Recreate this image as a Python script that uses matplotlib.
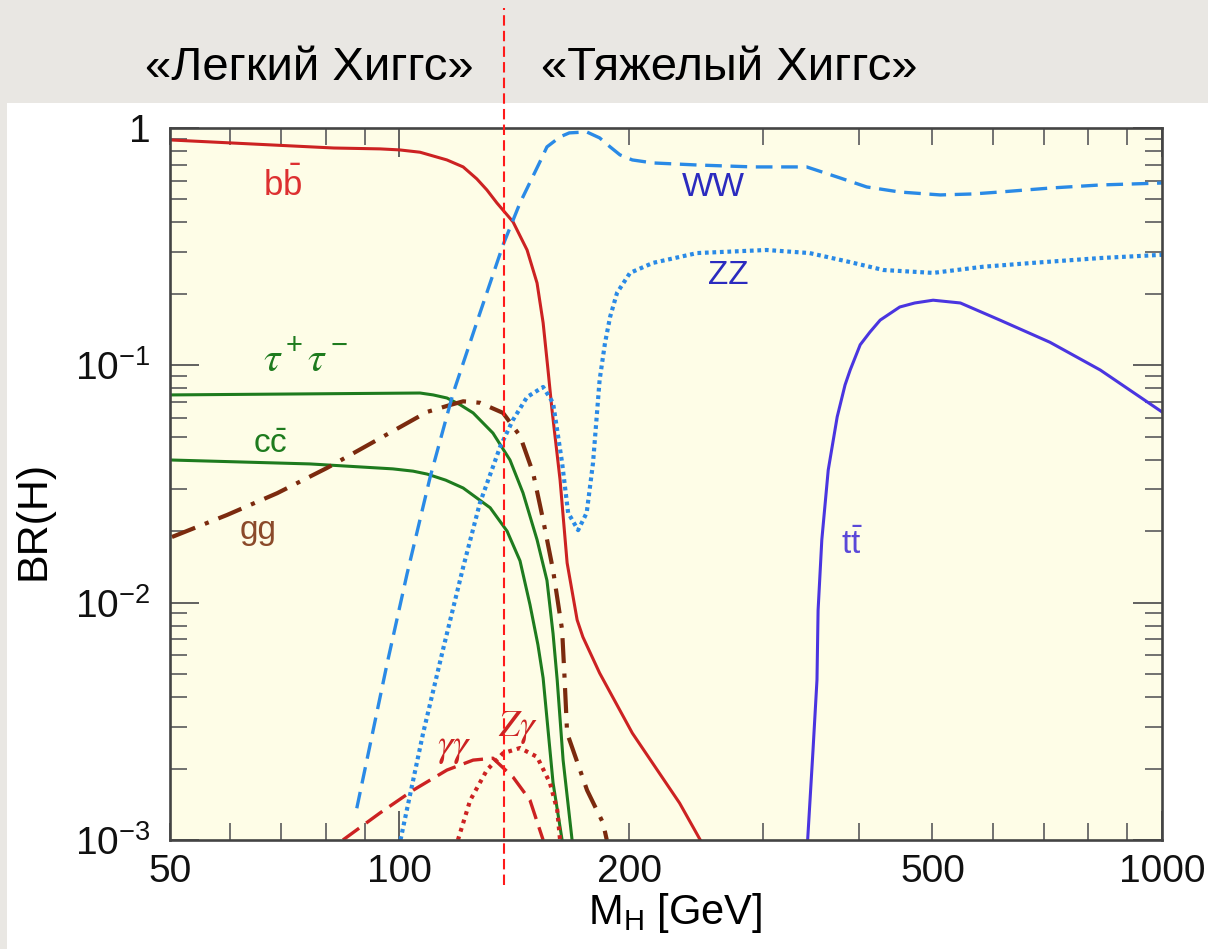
import numpy as np
import matplotlib.pyplot as plt
from matplotlib.ticker import FixedLocator, FuncFormatter, FixedFormatter
from matplotlib.transforms import blended_transform_factory
from matplotlib.patches import Rectangle

plt.rcParams['font.family'] = ['Liberation Sans', 'DejaVu Sans']
plt.rcParams['mathtext.default'] = 'regular'

# Higgs branching ratios BR(H) vs M_H [GeV]
bb_m = [50, 82, 94.3, 100, 106.4, 115.4, 121.2, 126.3, 130.2, 134.2, 140.9, 147, 151.5, 154.3, 156.6, 158.5,
        162.4, 165.9, 171, 174, 183, 202, 233, 248]
bb_br = [0.89, 0.823, 0.816, 0.808, 0.79, 0.733, 0.685, 0.61, 0.548, 0.483, 0.402, 0.306, 0.222, 0.151, 0.0955, 0.0648,
         0.0329, 0.0147, 0.00845, 0.00716, 0.00505, 0.00282, 0.00143, 0.001]

tau_m = [50, 106.4, 110.7, 115.4, 120, 124.9, 132.6, 139.6, 145.2, 151.5, 156.1, 159, 161, 163.9, 168.4]
tau_br = [0.075, 0.0764, 0.075, 0.0728, 0.0683, 0.063, 0.0518, 0.0399, 0.029, 0.0184, 0.0124, 0.0074, 0.00472,
          0.00217, 0.001]

cc_m = [50, 76.3, 98, 104.2, 108.7, 115, 121.2, 131.5, 138.4, 143.9, 148.3, 151.9, 154.3, 159, 163.4]
cc_br = [0.0399, 0.0384, 0.0366, 0.0358, 0.0348, 0.0328, 0.0304, 0.0251, 0.02, 0.015, 0.0098, 0.00664, 0.00481,
         0.00174, 0.001]

gg_m = [50.3, 59.4, 69.1, 80.3, 93.4, 108.7, 116.5, 121.2, 127.5, 136.7, 143.9, 149.7, 154.3,
        159, 163.4, 164.5, 165.9, 176.2, 184.9, 187]
gg_br = [0.0189, 0.0234, 0.0289, 0.0369, 0.0484, 0.0636, 0.068, 0.0705, 0.0695, 0.063, 0.0504, 0.0352, 0.0223,
         0.0137, 0.00768, 0.00506, 0.00282, 0.00162, 0.00118, 0.001]

ww_m = [87.9, 96.3, 102.3, 109.7, 117.5, 127.5, 136.7, 143.9, 152.8, 156.1, 162.4, 167, 176, 183,
        188.9, 194.6, 202, 215, 245.6, 291, 342, 378, 410, 453, 512, 565, 613, 713, 830, 1000]
ww_br = [0.00136, 0.00551, 0.0132, 0.0338, 0.0757, 0.166, 0.321, 0.483, 0.719, 0.832, 0.917, 0.953, 0.962, 0.908,
         0.832, 0.77, 0.733, 0.712, 0.698, 0.685, 0.685, 0.616, 0.564, 0.537, 0.522, 0.527, 0.537, 0.558, 0.575, 0.586]

zz_m = [100.3, 107.4, 114, 121.2, 127.5, 135.5, 140.9, 147, 154.3, 159, 163.4, 166.4, 171.5, 176, 179.4,
        183, 186, 188.9, 192.9, 200.6, 215, 245.6, 303, 345, 390, 431, 501, 582, 677, 830, 1000]
zz_br = [0.001, 0.00282, 0.00631, 0.0141, 0.0263, 0.0453, 0.0589, 0.0735, 0.081, 0.0694, 0.0388, 0.0239, 0.0202,
         0.0239, 0.0388, 0.0867, 0.124, 0.16, 0.202, 0.245, 0.27, 0.297, 0.306, 0.297, 0.272, 0.252, 0.245, 0.26,
         0.27, 0.283, 0.292]

tt_m = [343, 348.6, 352.8, 354, 358, 365, 375, 384, 390, 402, 414, 427, 453, 474, 501, 544, 613, 713, 830, 1000]
tt_br = [0.001, 0.00239, 0.00472, 0.0093, 0.0184, 0.0362, 0.0606, 0.0826, 0.0955, 0.122, 0.138, 0.155, 0.176,
         0.183, 0.188, 0.183, 0.155, 0.125, 0.0955, 0.0636]

gaga_m = [84.3, 94.3, 104.2, 115.4, 124.9, 132.6, 140.9, 148.3, 154.3]
gaga_br = [0.001, 0.0013, 0.00162, 0.00197, 0.00217, 0.00221, 0.00184, 0.00147, 0.001]

zga_m = [119.3, 123.8, 130.2, 136.7, 143.9, 151.5, 157.5, 161, 162.4]
zga_br = [0.001, 0.00147, 0.00197, 0.00232, 0.00244, 0.00224, 0.00174, 0.00134, 0.001]

m_split = 137  # light / heavy Higgs boundary

x_major = [100, 1000]
x_minor = [50, 60, 70, 80, 90, 200, 300, 400, 500, 600, 700, 800, 900]
x_minor_labels = [50, 200, 500]
y_major = [1e-3, 1e-2, 1e-1, 1]
y_labels = [r'$10^{-3}$', r'$10^{-2}$', r'$10^{-1}$', '1']

red = '#cc2222'
green = '#1e7b1e'
brown = '#7b2a0e'
lblue = '#2a8ae6'
navy = '#2b2bbf'
violet = '#4a35e0'

fig = plt.figure(figsize=(12.08, 9.49), dpi=100)
fig.patch.set_facecolor('#e9e7e3')
fig.add_artist(Rectangle((0.0058, 0), 0.9942, 0.8915, transform=fig.transFigure,
                         facecolor='white', edgecolor='none', zorder=-1))

ax = fig.add_axes([0.1407, 0.1149, 0.8212, 0.7503])
ax.set_facecolor('#fefde7')
ax.set_xscale('log')
ax.set_yscale('log')
ax.set_xlim(50, 1000)
ax.set_ylim(1e-3, 1)

ax.plot(bb_m, bb_br, color=red, lw=2.2)
ax.plot(tau_m, tau_br, color=green, lw=2.2)
ax.plot(cc_m, cc_br, color=green, lw=2.2)
ax.plot(gg_m, gg_br, color=brown, lw=3, linestyle=(0, (6, 2.5, 1, 2.5)))
ax.plot(ww_m, ww_br, color=lblue, lw=2.4, linestyle=(0, (5, 2.6)))
ax.plot(zz_m, zz_br, color=lblue, lw=3, linestyle=(0, (0.9, 0.9)))
ax.plot(tt_m, tt_br, color=violet, lw=2.2)
ax.plot(gaga_m, gaga_br, color=red, lw=2.4, linestyle=(0, (6, 2.6)))
ax.plot(zga_m, zga_br, color=red, lw=3, linestyle=(0, (0.9, 1.2)))

# curve labels
ax.text(70.3, 0.575, r'$b\bar{b}$', color='#dd3030', fontsize=25, ha='center', va='center')
ax.text(75.2, 0.105, r'$\mathit{\tau}^+\mathit{\tau}^-$', color=green, fontsize=30, ha='center', va='center',
        math_fontfamily='stix')
ax.text(67.6, 0.0462, r'$c\bar{c}$', color=green, fontsize=24, ha='center', va='center')
ax.text(65.2, 0.0202, 'gg', color='#8b4a2a', fontsize=24, ha='center', va='center')
ax.text(258, 0.559, 'WW', color=navy, fontsize=24, ha='center', va='center')
ax.text(270, 0.24, 'ZZ', color=navy, fontsize=24, ha='center', va='center')
ax.text(392, 0.0175, r'$t\bar{t}$', color='#5a48d8', fontsize=24, ha='center', va='center')
ax.text(118.2, 0.00244, r'$\mathit{\gamma\gamma}$', color=red, fontsize=28, ha='center', va='center',
        math_fontfamily='stix')
ax.text(143, 0.00299, r'$\mathit{Z\gamma}$', color=red, fontsize=27, ha='center', va='center',
        math_fontfamily='stix')

# ticks
ax.xaxis.set_major_locator(FixedLocator(x_major))
ax.xaxis.set_minor_locator(FixedLocator(x_minor))
ax.xaxis.set_major_formatter(FuncFormatter(lambda v, p: '%d' % v))
ax.xaxis.set_minor_formatter(FuncFormatter(lambda v, p: '%d' % v if int(round(v)) in x_minor_labels else ''))
ax.yaxis.set_major_locator(FixedLocator(y_major))
ax.yaxis.set_major_formatter(FixedFormatter(y_labels))
ax.yaxis.set_minor_locator(FixedLocator([k * 10.0 ** e for e in (-3, -2, -1) for k in range(2, 10)]))
ax.yaxis.set_minor_formatter(FuncFormatter(lambda v, p: ''))

ax.tick_params(which='major', direction='in', length=21, width=1.3, color='#555555',
               top=True, right=True, labelsize=28, labelcolor='#111111')
ax.tick_params(which='minor', direction='in', length=12.5, width=1.3, color='#666666',
               top=True, right=True, labelsize=28, labelcolor='#111111')
ax.tick_params(axis='x', which='both', pad=10)
ax.tick_params(axis='y', which='both', pad=14)

for s in ax.spines.values():
    s.set_color('#444444')
    s.set_linewidth(1.9)

ax.set_xlabel(r'$M_H$ [GeV]', fontsize=30, labelpad=6)
ax.set_ylabel('BR(H)', fontsize=31)
ax.xaxis.set_label_coords(0.509, -0.072)
ax.yaxis.set_label_coords(-0.117, 0.449)

# light / heavy boundary line across the whole figure
trans = blended_transform_factory(ax.transData, fig.transFigure)
ax.plot([m_split, m_split], [0.0675, 0.992], transform=trans, clip_on=False,
        color='#ff1a1a', lw=1.5, linestyle=(0, (5, 2.5)), zorder=5)

fig.text(0.2558, 0.9283, '«Легкий Хиггс»', fontsize=34, ha='center', va='center', color='#000000')
fig.text(0.6035, 0.9283, '«Тяжелый Хиггс»', fontsize=34, ha='center', va='center', color='#000000')

fig.savefig('out.png', dpi=100, facecolor=fig.get_facecolor())
